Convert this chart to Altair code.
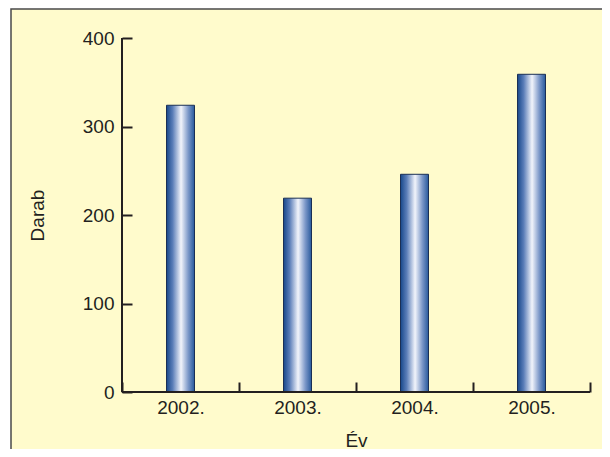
import altair as alt
import pandas as pd

years = ["2002.", "2003.", "2004.", "2005."]
counts = [324, 219, 246, 359]
y_ticks = [0, 100, 200, 300, 400]

df = pd.DataFrame({"Év": years, "Darab": counts})
one = pd.DataFrame({"k": [0]})

W, H = 468, 354
FONT = "Liberation Sans"
INK = "#231f20"
FS = 19

gradient = alt.Gradient(
    gradient="linear",
    stops=[
        alt.GradientStop(color="#17478a", offset=0),
        alt.GradientStop(color="#5a7db8", offset=0.22),
        alt.GradientStop(color="#f2f4fb", offset=0.52),
        alt.GradientStop(color="#7b97c8", offset=0.78),
        alt.GradientStop(color="#28599c", offset=1),
    ],
    x1=0, x2=1, y1=0, y2=0,
)

panel = alt.Chart(one).mark_rect(
    fill="#fffbcc", stroke="#4a4a4a", strokeWidth=1.5
).encode(
    x=alt.value(-111), x2=alt.value(W + 60),
    y=alt.value(-29), y2=alt.value(H + 80),
)

bars = alt.Chart(df).mark_bar(
    size=28, fill=gradient, stroke="#1a2f55", strokeWidth=1
).encode(
    x=alt.X("Év:N", sort=years,
            scale=alt.Scale(paddingInner=0, paddingOuter=0),
            axis=alt.Axis(title="Év", labelAngle=0, domain=False, zindex=2,
                          tickBand="extent", offset=-10, tickSize=10,
                          tickWidth=2, tickColor=INK, labelPadding=6,
                          labelFont=FONT, labelFontSize=FS, labelColor=INK,
                          titleFont=FONT, titleFontSize=FS, titleFontWeight="normal",
                          titleColor=INK, titlePadding=14)),
    y=alt.Y("Darab:Q",
            scale=alt.Scale(domain=[0, 400], nice=False),
            axis=alt.Axis(title="Darab", values=y_ticks, grid=False, domain=False,
                          zindex=2, offset=-10, tickSize=10, tickWidth=2,
                          tickColor=INK, labelPadding=8, labelFont=FONT,
                          labelFontSize=FS, labelColor=INK, titleFont=FONT,
                          titleFontSize=FS, titleFontWeight="normal",
                          titleColor=INK, titlePadding=35)),
)

xline = alt.Chart(one).mark_rule(color=INK, strokeWidth=2).encode(
    x=alt.value(0), x2=alt.value(W), y=alt.value(H)
)
yline = alt.Chart(one).mark_rule(color=INK, strokeWidth=2).encode(
    x=alt.value(0), y=alt.value(0), y2=alt.value(H)
)

chart = alt.layer(panel, bars, xline, yline).properties(
    width=W, height=H,
    autosize=alt.AutoSizeParams(type="none"),
    padding={"left": 114, "top": 30, "right": 12, "bottom": 57},
    background="white",
).configure_view(stroke=None)

chart.save("out.html", embed_options={"renderer": "svg", "actions": False})
